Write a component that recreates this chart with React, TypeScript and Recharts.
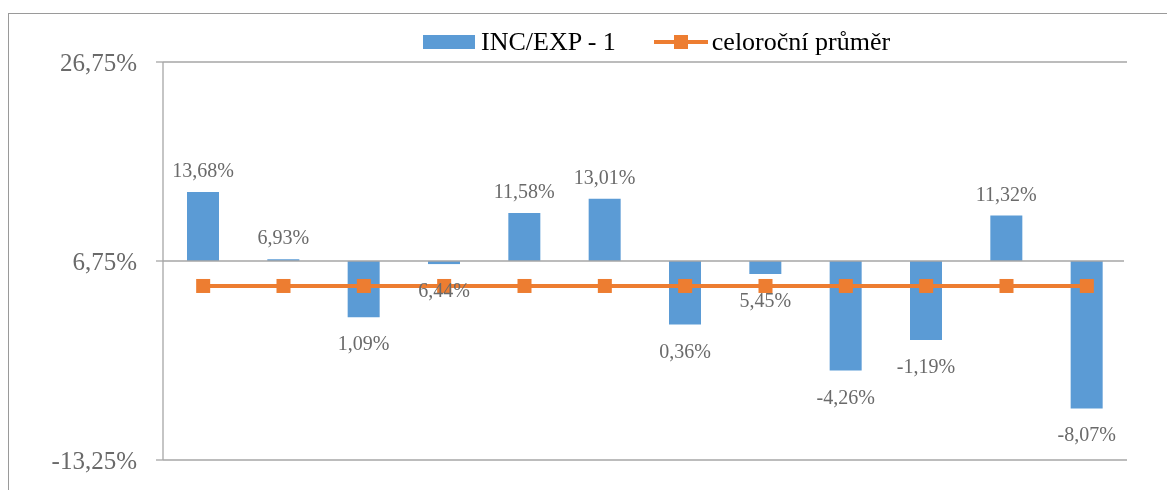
import React from 'react';
import { ComposedChart, Bar, Line, XAxis, YAxis, ReferenceLine, LabelList } from 'recharts';

const categories = ['1', '2', '3', '4', '5', '6', '7', '8', '9', '10', '11', '12'];
const incExp = [13.68, 6.93, 1.09, 6.44, 11.58, 13.01, 0.36, 5.45, -4.26, -1.19, 11.32, -8.07];
const annualAverage = [4.24, 4.24, 4.24, 4.24, 4.24, 4.24, 4.24, 4.24, 4.24, 4.24, 4.24, 4.24];
const yTicks = [-13.25, 6.75, 26.75];
const yDomain = [-13.25, 26.75];
const crossValue = 6.75;
const seriesNames = ['INC/EXP - 1', 'celoroční průměr'];

const BLUE = '#5b9bd5';
const ORANGE = '#ed7d31';
const GRID = '#a6a6a6';
const LABEL = '#6a6a6a';
const FONT = '"Liberation Serif", "Times New Roman", serif';

const CHART_W = 1151;
const CHART_H = 474;
const MARGIN = { top: 54, right: 32, bottom: 22, left: 0 };
const Y_AXIS_W = 155;

const data = categories.map((name, i) => ({
  name,
  value: incExp[i],
  range: [Math.min(crossValue, incExp[i]), Math.max(crossValue, incExp[i])],
  avg: annualAverage[i],
}));

const fmt = (v: number) => v.toFixed(2).replace('.', ',') + '%';

const renderLabel = (props: any) => {
  const { x, y, width, height, index } = props;
  const v = incExp[index];
  const cx = Number(x) + Number(width) / 2;
  const top = Math.min(Number(y), Number(y) + Number(height));
  const bottom = Math.max(Number(y), Number(y) + Number(height));
  const center = v >= crossValue ? top - 22 : bottom + 26;
  return (
    <text key={'lbl' + index} x={cx} y={center + 7} textAnchor="middle" fontSize={20} fontFamily={FONT} fill={LABEL}>
      {fmt(v)}
    </text>
  );
};

const SquareDot = (props: any) => {
  const { cx, cy, index } = props;
  return <rect key={'dot' + index} x={cx - 7} y={cy - 7} width={14} height={14} fill={ORANGE} />;
};

const ChartLegend = () => (
  <div
    style={{
      position: 'absolute', left: 0, top: 14, height: 40, display: 'flex', alignItems: 'center',
      paddingLeft: 415, fontFamily: FONT, fontSize: 26, color: '#000', whiteSpace: 'nowrap',
    }}
  >
    <span style={{ display: 'inline-block', width: 52, height: 14, background: BLUE, marginRight: 6 }} />
    <span>{seriesNames[0]}</span>
    <svg width={54} height={14} style={{ marginLeft: 38, marginRight: 4 }}>
      <line x1={0} y1={7} x2={54} y2={7} stroke={ORANGE} strokeWidth={4} />
      <rect x={20} y={0} width={14} height={14} fill={ORANGE} />
    </svg>
    <span>{seriesNames[1]}</span>
  </div>
);

export default function App() {
  return (
    <div style={{ position: 'relative', width: CHART_W, height: CHART_H }}>
      <div
        style={{
          position: 'fixed', left: 8, top: 13, width: 1159, height: 477,
          borderTop: '1px solid #9a9a9a', borderLeft: '1px solid #9a9a9a',
          boxSizing: 'border-box', pointerEvents: 'none',
        }}
      />
      <ComposedChart width={CHART_W} height={CHART_H} data={data} margin={MARGIN} style={{ fontFamily: FONT }}>
        <XAxis dataKey="name" hide />
        <YAxis
          type="number"
          domain={yDomain}
          ticks={yTicks}
          width={Y_AXIS_W}
          tickFormatter={fmt}
          tick={{ fontSize: 25, fill: LABEL, fontFamily: FONT }}
          tickSize={7}
          tickMargin={19}
          tickLine={{ stroke: GRID, strokeWidth: 1.3 }}
          axisLine={{ stroke: GRID, strokeWidth: 1.3 }}
        />
        {yTicks.map((t) => (
          <ReferenceLine key={'g' + t} y={t} stroke={GRID} strokeWidth={1.3} />
        ))}
        <Bar dataKey="range" fill={BLUE} barSize={32} isAnimationActive={false} name={seriesNames[0]}>
          <LabelList dataKey="value" content={renderLabel} />
        </Bar>
        <Line
          dataKey="avg"
          stroke={ORANGE}
          strokeWidth={4}
          dot={SquareDot}
          activeDot={false}
          isAnimationActive={false}
          name={seriesNames[1]}
        />
      </ComposedChart>
      <ChartLegend />
      <div
        style={{
          position: 'fixed', left: 1124, top: 63, width: 12, height: 396,
          background: '#fff', pointerEvents: 'none', zIndex: 5,
        }}
      />
    </div>
  );
}
